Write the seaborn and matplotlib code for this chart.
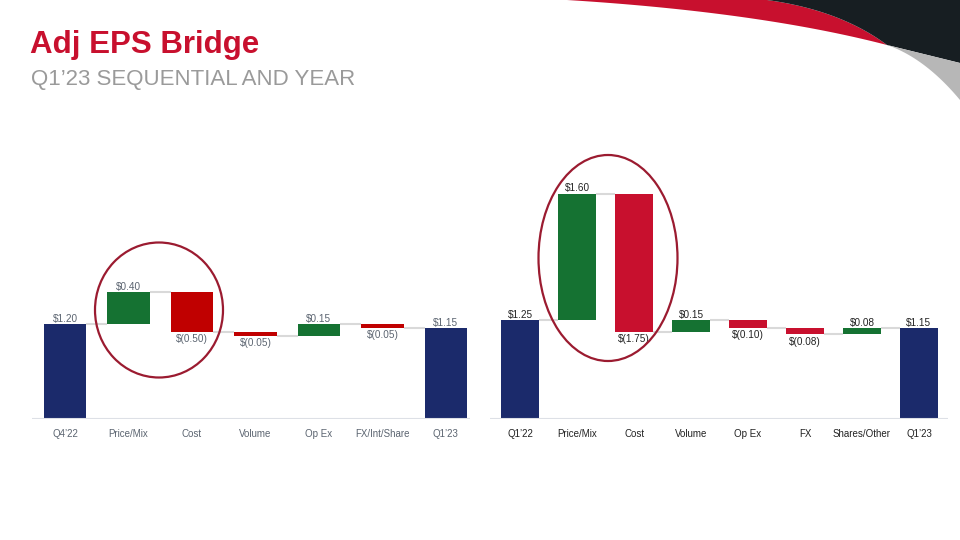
import numpy as np
import pandas as pd
import matplotlib
matplotlib.use("Agg")
import matplotlib.pyplot as plt
from matplotlib.patches import Ellipse, Polygon
import seaborn as sns

# ---------------- data ----------------
left_cats = ["Q4’22", "Price/Mix", "Cost", "Volume", "Op Ex", "FX/Int/Share", "Q1’23"]
left_vals = [1.20, 0.40, -0.50, -0.05, 0.15, -0.05, 1.15]
left_labels = ["$1.20", "$0.40", "$(0.50)", "$(0.05)", "$0.15", "$(0.05)", "$1.15"]
left_total = [True, False, False, False, False, False, True]

right_cats = ["Q1’22", "Price/Mix", "Cost", "Volume", "Op Ex", "FX", "Shares/Other", "Q1’23"]
right_vals = [1.25, 1.60, -1.75, 0.15, -0.10, -0.08, 0.08, 1.15]
right_labels = ["$1.25", "$1.60", "$(1.75)", "$0.15", "$(0.10)", "$(0.08)", "$0.08", "$1.15"]
right_total = [True, False, False, False, False, False, False, True]

title = "Adj EPS Bridge"
subtitle = "Q1’23 SEQUENTIAL AND YEAR"

NAVY = "#1b2a6b"
GREEN = "#157232"
RED_L = "#c00000"
RED_R = "#c8102e"
CONN = "#d9d9d9"

sns.set_theme(style="white")
plt.rcParams["font.family"] = ["Liberation Sans", "DejaVu Sans"]

fig = plt.figure(figsize=(9.6, 5.4), dpi=100)
W, H = 960, 540


def waterfall(ax, cats, vals, labels, totals, red, txtcolor, xlim):
    bottoms, colors = [], []
    run = 0.0
    for v, t in zip(vals, totals):
        if t:
            bottoms.append(0.0)
            colors.append(NAVY)
            run = v
        else:
            bottoms.append(run)
            colors.append(GREEN if v > 0 else red)
            run = run + v
    df = pd.DataFrame({"cat": cats, "val": vals})
    sns.barplot(data=df, x="cat", y="val", order=cats, bottom=np.array(bottoms),
                width=0.67, errorbar=None, color=NAVY, saturation=1, ax=ax,
                linewidth=0, zorder=3)
    for p, c in zip(ax.patches, colors):
        p.set_facecolor(c)
    # connectors
    hw = 0.335
    for i in range(len(vals) - 1):
        lvl = bottoms[i] + vals[i]
        ax.plot([i + hw, i + 1 - hw], [lvl, lvl], color=CONN, lw=1.5, zorder=2,
                solid_capstyle="butt")
    # labels
    for i, (v, b, lab, t) in enumerate(zip(vals, bottoms, labels, totals)):
        if t or v > 0:
            ax.text(i, b + v + 0.005, lab, ha="center", va="bottom", fontsize=7.2,
                    color=txtcolor)
        else:
            ax.text(i, b + v - 0.03, lab, ha="center", va="top", fontsize=7.2,
                    color=txtcolor)
    ax.set_xlim(*xlim)
    ax.set_ylim(0, 3.4)
    ax.axhline(0, color="#dde0e6", lw=1.5, zorder=4)
    ax.set_xlabel("")
    ax.set_ylabel("")
    ax.set_yticks([])
    ax.tick_params(axis="x", length=0, pad=7, labelsize=7, labelcolor=txtcolor)
    sns.despine(ax=ax, left=True, bottom=True)


ax1 = fig.add_axes([32 / W, 121 / H, 438 / W, 269 / H])
waterfall(ax1, left_cats, left_vals, left_labels, left_total, RED_L, "#5b6470",
          (-0.52, 6.38))
ax2 = fig.add_axes([490 / W, 121 / H, 458 / W, 269 / H])
waterfall(ax2, right_cats, right_vals, right_labels, right_total, RED_R, "#222222",
          (-0.53, 7.51))

# ---------------- overlay decoration ----------------
ov = fig.add_axes([0, 0, 1, 1], zorder=10)
ov.set_xlim(0, W)
ov.set_ylim(H, 0)
ov.axis("off")
ov.patch.set_alpha(0)


def qbez(p0, p1, p2, n=60):
    t = np.linspace(0, 1, n)[:, None]
    p0, p1, p2 = map(np.array, (p0, p1, p2))
    return (1 - t) ** 2 * p0 + 2 * t * (1 - t) * p1 + t ** 2 * p2


red_lower = qbez((567, 0), (760, 12), (887, 45))
red_upper = qbez((767, 0), (840, 10), (887, 45))
ov.add_patch(Polygon(np.vstack([red_lower, red_upper[::-1]]), closed=True,
                     facecolor="#c8102e", edgecolor="none"))
dark = np.vstack([red_upper, [[960, 63], [960, 0]]])
ov.add_patch(Polygon(dark, closed=True, facecolor="#171e22", edgecolor="none"))
gray_lower = qbez((887, 45), (925, 58), (960, 100))
gray = np.vstack([[[887, 45], [960, 63]], gray_lower[::-1]])
ov.add_patch(Polygon(gray, closed=True, facecolor="#b7b7b7", edgecolor="none"))

ov.text(30, 45, title, fontsize=22.5, fontweight="bold", color="#c8102e",
        ha="left", va="center")
ov.text(31, 79, subtitle, fontsize=16, color="#9a9a9a", ha="left", va="center")

ov.add_patch(Ellipse((159, 310), 128, 135, fill=False, edgecolor="#9b1b30", lw=1.6))
ov.add_patch(Ellipse((608, 258), 139, 206, fill=False, edgecolor="#9b1b30", lw=1.6))

fig.savefig("out.png", dpi=100)
